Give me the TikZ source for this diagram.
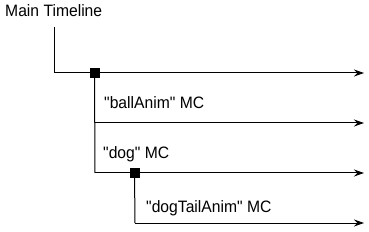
\documentclass[tikz,border=0pt]{standalone}
\usepackage{fontspec}
\setmainfont{Liberation Sans}[Ligatures=TeXOff,FakeStretch=0.95]
\usetikzlibrary{arrows.meta}
\begin{document}
\begin{tikzpicture}[x=1pt,y=-1pt,
  lbl/.style={anchor=base west,inner sep=0pt,font=\fontsize{16.5}{19}\selectfont},
  tl/.style={line width=1pt,-{Stealth[length=10pt,width=7pt]}},
  br/.style={line width=1pt},
  keyf/.style={fill=black,minimum size=10pt,inner sep=0pt}]
\useasboundingbox (0,0) rectangle (369,232);
\node[lbl] (main) at (5,17) {Main Timeline};
\coordinate (top) at (54,27);
\coordinate (corner) at (54,73);
\node[keyf] (k1) at (94.5,73) {};
\coordinate (e1) at (364,73);
\coordinate (c2) at (95,123);
\coordinate (e2) at (364,123);
\coordinate (c3) at (95,173);
\coordinate (e3) at (364,173);
\node[keyf] (k2) at (134.5,173) {};
\coordinate (c4) at (135,223);
\coordinate (e4) at (364,223);
\node[lbl] (ball) at (104,109) {"ballAnim" MC};
\node[lbl] (dog) at (103,159) {"dog" MC};
\node[lbl] (tail) at (146,212) {"dogTailAnim" MC};
\draw[br] (top) -- (corner);
\draw[tl] (corner) -- (e1);
\draw[br] (k1.center) -- (c3);
\draw[tl] (c2) -- (e2);
\draw[tl] (c3) -- (e3);
\draw[br] (k2.center) -- (c4);
\draw[tl] (c4) -- (e4);
\node[keyf] at (k1) {};
\node[keyf] at (k2) {};
\end{tikzpicture}
\end{document}
